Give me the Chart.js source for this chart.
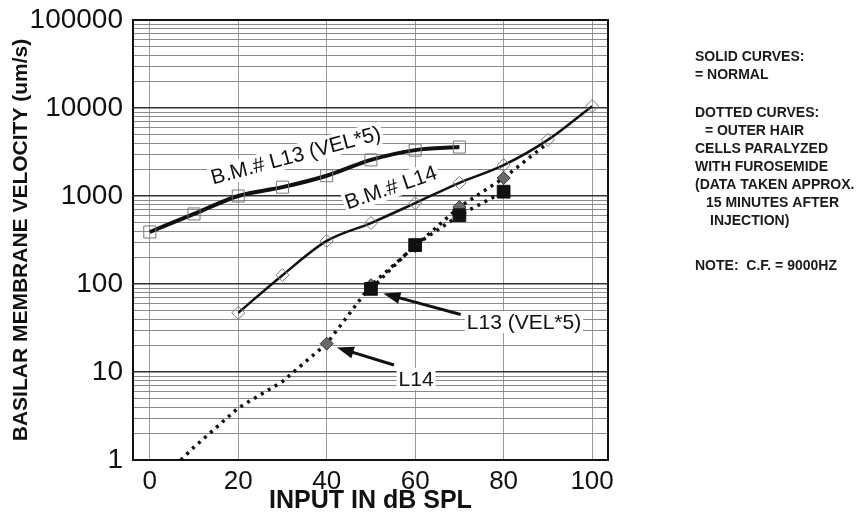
<!DOCTYPE html>
<html>
<head>
<meta charset="utf-8">
<script src="https://cdn.jsdelivr.net/npm/chart.js@4"></script>
<style>
  html, body { margin: 0; padding: 0; background: #fff; }
  #wrap { width: 863px; height: 526px; }
</style>
</head>
<body>
<div id="wrap"><canvas id="bmChart" width="863" height="526"></canvas></div>
<script>
// input level (dB SPL) and basilar membrane velocity (um/s)
var levelsL13 = [0, 10, 20, 30, 40, 50, 60, 70];
var velL13 = [390, 625, 1000, 1260, 1700, 2570, 3320, 3600];
var levelsL14 = [20, 30, 40, 50, 60, 70, 80, 90, 100];
var velL14 = [47, 126, 309, 493, 830, 1410, 2240, 4340, 10500];
// after furosemide (dotted)
var levelsL13Furo = [50, 60, 70, 80];
var velL13Furo = [88, 277, 605, 1120];
var levelsL14Furo = [7, 10, 20, 30, 40, 50, 60, 70, 80, 90];
var velL14Furo = [1, 1.4, 3.9, 7.8, 21, 97, 270, 750, 1600, 4000];
var markL14Furo = [0, 0, 0, 0, 1, 1, 1, 1, 1, 0];

var xTicks = [0, 20, 40, 60, 80, 100];
var yDecades = [1, 10, 100, 1000, 10000, 100000];

var notes = [
    ["SOLID CURVES:", 0, 57],
    ["= NORMAL", 0, 75],
    ["DOTTED CURVES:", 0, 113],
    [" = OUTER HAIR", 6, 131],
    ["CELLS PARALYZED", 0, 149],
    ["WITH FUROSEMIDE", 0, 167],
    ["(DATA TAKEN APPROX.", 0, 185],
    ["15 MINUTES AFTER", 11, 203],
    ["INJECTION)", 15, 221],
    ["NOTE:  C.F. = 9000HZ", 0, 266]
];

function pts(xs, ys) {
    return xs.map(function (x, i) { return { x: x, y: ys[i] }; });
}

var FONT = "'Liberation Sans', Arial, sans-serif";

function arrow(ctx, x1, y1, x2, y2) {
    var a = Math.atan2(y2 - y1, x2 - x1);
    ctx.beginPath();
    ctx.moveTo(x1, y1);
    ctx.lineTo(x2 - 10 * Math.cos(a), y2 - 10 * Math.sin(a));
    ctx.lineWidth = 3;
    ctx.stroke();
    ctx.beginPath();
    ctx.moveTo(x2, y2);
    ctx.lineTo(x2 - 17 * Math.cos(a) + 6 * Math.sin(a), y2 - 17 * Math.sin(a) - 6 * Math.cos(a));
    ctx.lineTo(x2 - 17 * Math.cos(a) - 6 * Math.sin(a), y2 - 17 * Math.sin(a) + 6 * Math.cos(a));
    ctx.closePath();
    ctx.fill();
}

function boxText(ctx, txt, x, y, rot) {
    ctx.save();
    ctx.translate(x, y);
    ctx.rotate(rot * Math.PI / 180);
    var w = ctx.measureText(txt).width;
    ctx.fillStyle = "#fff";
    ctx.fillRect(-w / 2 - 2, -11, w + 4, 22);
    ctx.fillStyle = "#111";
    ctx.fillText(txt, 0, 1);
    ctx.restore();
}

var annotations = {
    id: "annotations",
    beforeDatasetsDraw: function (chart) {
        var ctx = chart.ctx;
        var xs = chart.scales.x, ys = chart.scales.y;
        ctx.save();
        ctx.font = "21px " + FONT;
        ctx.textAlign = "center";
        ctx.textBaseline = "middle";
        boxText(ctx, "B.M.# L13 (VEL*5)", xs.getPixelForValue(33), ys.getPixelForValue(2900), -15);
        boxText(ctx, "B.M.# L14", xs.getPixelForValue(54.5), ys.getPixelForValue(1250), -19);
        ctx.restore();
    },
    afterDraw: function (chart) {
        var ctx = chart.ctx;
        var a = chart.chartArea;
        var xs = chart.scales.x, ys = chart.scales.y;
        ctx.save();
        // frame
        ctx.strokeStyle = "#111";
        ctx.lineWidth = 2;
        ctx.strokeRect(a.left, a.top, a.right - a.left, a.bottom - a.top);

        // pointer labels
        ctx.fillStyle = "#111";
        ctx.strokeStyle = "#111";
        ctx.font = "21px " + FONT;
        ctx.textAlign = "center";
        ctx.textBaseline = "middle";
        boxText(ctx, "L13 (VEL*5)", xs.getPixelForValue(84.6), ys.getPixelForValue(37), 0);
        boxText(ctx, "L14", xs.getPixelForValue(60.2), ys.getPixelForValue(8.3), 0);
        ctx.fillStyle = "#111";
        arrow(ctx, xs.getPixelForValue(70.3), ys.getPixelForValue(45), xs.getPixelForValue(52.8), ys.getPixelForValue(78));
        arrow(ctx, xs.getPixelForValue(55.2), ys.getPixelForValue(12), xs.getPixelForValue(42.3), ys.getPixelForValue(19));

        // notes at right
        ctx.font = "bold 14px " + FONT;
        ctx.textAlign = "left";
        ctx.textBaseline = "middle";
        ctx.fillStyle = "#1a1a1a";
        notes.forEach(function (n) {
            ctx.fillText(n[0], 695 + n[1], n[2]);
        });
        ctx.restore();
    }
};

var data = {
    datasets: [
        {
            label: "L13 furosemide",
            data: pts(levelsL13Furo, velL13Furo),
            borderColor: "#111",
            borderWidth: 3.5,
            borderDash: [3, 5],
            pointStyle: "rect",
            pointRadius: 9,
            pointBackgroundColor: "#111",
            pointBorderColor: "#111",
            pointBorderWidth: 1,
            tension: 0
        },
        {
            label: "L14 furosemide",
            data: pts(levelsL14Furo, velL14Furo),
            borderColor: "#111",
            borderWidth: 3.5,
            borderDash: [3, 5],
            pointStyle: "rectRot",
            pointRadius: markL14Furo.map(function (m) { return m ? 6.5 : 0; }),
            pointBackgroundColor: "#6a6a6a",
            pointBorderColor: "#333",
            pointBorderWidth: 1,
            tension: 0
        },
        {
            label: "L13 normal",
            data: pts(levelsL13, velL13),
            borderColor: "#111",
            borderWidth: 4,
            pointStyle: "rect",
            pointRadius: 8.5,
            pointBackgroundColor: "rgba(255,255,255,0)",
            pointBorderColor: "#777",
            pointBorderWidth: 1,
            cubicInterpolationMode: "monotone"
        },
        {
            label: "L14 normal",
            data: pts(levelsL14, velL14),
            borderColor: "#111",
            borderWidth: 2.5,
            pointStyle: "rectRot",
            pointRadius: 6.5,
            pointBackgroundColor: "rgba(255,255,255,0)",
            pointBorderColor: "#777",
            pointBorderWidth: 1,
            cubicInterpolationMode: "monotone"
        }
    ]
};

var ctx = document.getElementById("bmChart").getContext("2d");
var bmChart = new Chart(ctx, {
    type: "line",
    data: data,
    plugins: [annotations],
    options: {
        responsive: false,
        animation: false,
        layout: { padding: { left: 4, right: 255, top: 20, bottom: 0 } },
        plugins: {
            legend: { display: false },
            tooltip: { enabled: false }
        },
        scales: {
            x: {
                type: "linear",
                min: -3.8,
                max: 103.6,
                afterBuildTicks: function (scale) {
                    scale.ticks = xTicks.map(function (v) { return { value: v }; });
                },
                afterFit: function (scale) {
                    scale.height = 66;
                    scale.paddingLeft = 0;
                    scale.paddingRight = 0;
                },
                grid: { color: "#9a9a9a", lineWidth: 1, drawTicks: false },
                border: { display: false },
                ticks: {
                    padding: 6,
                    color: "#111",
                    font: { family: FONT, size: 26 }
                },
                title: {
                    display: true,
                    text: "INPUT IN dB SPL",
                    color: "#111",
                    padding: { top: 0, bottom: 10 },
                    font: { family: FONT, size: 25, weight: "bold" }
                }
            },
            y: {
                type: "logarithmic",
                min: 1,
                max: 100000,
                afterBuildTicks: function (scale) {
                    var t = [];
                    yDecades.forEach(function (d) {
                        for (var m = 1; m <= 9; m++) {
                            if (d * m <= 100000) t.push({ value: d * m, major: m === 1 });
                        }
                    });
                    scale.ticks = t;
                },
                afterFit: function (scale) {
                    scale.width = 129;
                    scale.paddingTop = 0;
                    scale.paddingBottom = 0;
                },
                grid: {
                    color: function (c) { return c.tick && c.tick.major ? "#333" : "#8a8a8a"; },
                    lineWidth: function (c) { return c.tick && c.tick.major ? 1.5 : 1; },
                    drawTicks: false
                },
                border: { display: false },
                ticks: {
                    autoSkip: false,
                    padding: 10,
                    color: "#111",
                    font: { family: FONT, size: 28 },
                    callback: function (v) {
                        return yDecades.indexOf(v) >= 0 ? String(v) : "";
                    }
                },
                title: {
                    display: true,
                    text: "BASILAR MEMBRANE VELOCITY (um/s)",
                    color: "#111",
                    padding: { top: 5, bottom: 0 },
                    font: { family: FONT, size: 21, weight: "bold" }
                }
            }
        }
    }
});
</script>
</body>
</html>
